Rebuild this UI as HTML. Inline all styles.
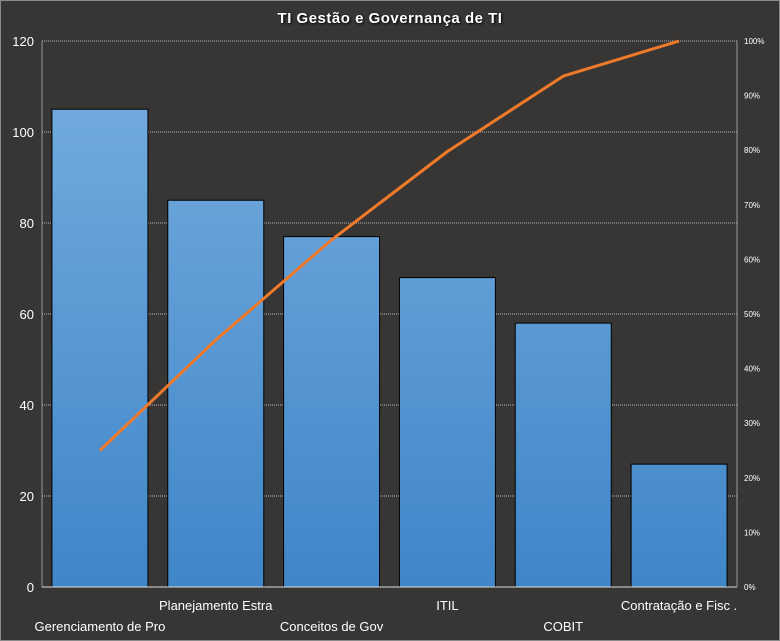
<!DOCTYPE html>
<html><head><meta charset="utf-8"><style>
html,body{margin:0;padding:0;background:#383634;}
svg{display:block;font-family:"Liberation Sans",sans-serif;}
</style></head><body>
<svg id="chart" width="780" height="641" viewBox="0 0 780 641">
<defs><linearGradient id="bg" gradientUnits="userSpaceOnUse" x1="0" y1="41" x2="0" y2="587"><stop offset="0" stop-color="#78aee0"/><stop offset="1" stop-color="#3f86c8"/></linearGradient></defs>
<rect x="0.5" y="0.5" width="779" height="640" fill="#383634" stroke="#8a8a8a"/>
<text x="390" y="23" text-anchor="middle" fill="#fff" font-size="15" font-weight="bold" letter-spacing="0.5" style="text-shadow:1px 1px 2px #000">TI Gestão  e Governança  de TI</text>
<g id="grid"></g><g id="bars"></g><g id="line"></g><g id="axes"></g>
</svg>
<script>
const categories=["Gerenciamento de Pro","Planejamento Estra","Conceitos de Gov","ITIL","COBIT","Contratação e Fisc ."];
const values=[105,85,77,68,58,27];
const leftTicks=[0,20,40,60,80,100,120];
const rightTicks=[0,10,20,30,40,50,60,70,80,90,100];
const NS="http://www.w3.org/2000/svg";
const L=42,R=737,T=41,B=587,yMax=120;
const y=v=>B-(v/yMax)*(B-T);
const yp=p=>B-(p/100)*(B-T);
const cw=(R-L)/categories.length;
const xc=i=>L+cw*(i+0.5);
function mk(t,a,p){const e=document.createElementNS(NS,t);for(const k in a)e.setAttribute(k,a[k]);p.appendChild(e);return e;}
const grid=document.getElementById('grid'),bars=document.getElementById('bars'),line=document.getElementById('line'),axes=document.getElementById('axes');
leftTicks.forEach(v=>{
  if(v>0){const g=mk('line',{x1:L,x2:R,y1:y(v),y2:y(v),stroke:'#bbb','stroke-dasharray':'1,1'},grid);
  
  }
  const t=mk('text',{x:34,y:y(v)+5,'text-anchor':'end',fill:'#fff','font-size':13},axes);t.textContent=v;
  
  
});
rightTicks.forEach(p=>{
  const t=mk('text',{x:744,y:yp(p)+3,fill:'#fff','font-size':8},axes);t.textContent=p+'%';
  
  
});
const ax=mk('line',{x1:L,x2:R,y1:B,y2:B,stroke:'#ddd'},axes);


const la=mk('line',{x1:L,x2:L,y1:T,y2:B,stroke:'#999'},axes);


const ra=mk('line',{x1:R,x2:R,y1:T,y2:B,stroke:'#999'},axes);


const total=values.reduce((a,b)=>a+b,0);
let cum=0;const pts=[];
values.forEach((v,i)=>{
  const bw=96;
  const r=mk('rect',{x:xc(i)-bw/2,y:y(v),width:bw,height:B-y(v),fill:'url(#bg)',stroke:'#000','stroke-width':1},bars);
  
  
  cum+=v;pts.push(xc(i)+','+yp(cum/total*100));
  const t=mk('text',{x:xc(i),y:i%2?610:631,'text-anchor':'middle',fill:'#fff','font-size':13},axes);t.textContent=categories[i];
  
  
});
const pl=mk('polyline',{points:pts.join(' '),fill:'none',stroke:'#f07a2a','stroke-width':3,'stroke-linejoin':'round'},line);


</script>
</body></html>
